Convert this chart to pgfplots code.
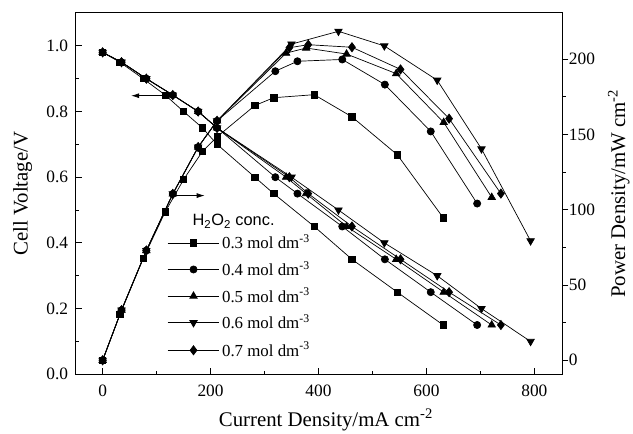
\documentclass[border=0pt]{standalone}
\usepackage{fontspec}
\setmainfont{Liberation Serif}
\newfontfamily\arial{Liberation Sans}
\usepackage{pgfplots}
\usepackage{pgfplotstable}
\pgfplotsset{compat=1.18}
\usetikzlibrary{arrows.meta}

% current density (mA cm-2), cell voltage (V), power density (mW cm-2)
\pgfplotstableread{
I V P
0 0.98 0
32 0.95 30.4
75 0.90 67.5
116 0.85 98.6
150 0.80 120.0
185 0.75 138.8
212 0.70 148.4
282 0.60 169.2
317 0.55 174.4
392 0.45 176.4
462 0.35 161.7
546 0.25 136.5
631 0.15 94.7
}\tabA
\pgfplotstableread{
I V P
0 0.98 0
35 0.95 33.3
81 0.90 72.9
130 0.85 110.5
177 0.80 141.6
212 0.75 159.0
320 0.60 192.0
361 0.55 198.6
444 0.45 199.8
523 0.35 183.1
608 0.25 152.0
694 0.15 104.1
}\tabB
\pgfplotstableread{
I V P
0 0.98 0
35 0.95 33.3
81 0.90 72.9
130 0.85 110.5
177 0.80 141.6
212 0.75 159.0
340 0.60 204.0
377 0.55 207.4
452 0.45 203.4
544 0.35 190.4
632 0.25 158.0
721 0.15 108.2
}\tabC
\pgfplotstableread{
I V P
0 0.98 0
35 0.95 33.3
81 0.90 72.9
130 0.85 110.5
177 0.80 141.6
212 0.75 159.0
350 0.60 210.0
437 0.50 218.5
522 0.40 208.8
620 0.30 186.0
702 0.20 140.4
793 0.10 79.3
}\tabD
\pgfplotstableread{
I V P
0 0.98 0
35 0.95 33.3
81 0.90 72.9
130 0.85 110.5
177 0.80 141.6
212 0.75 159.0
346 0.60 207.6
381 0.55 209.6
462 0.45 207.9
552 0.35 193.2
642 0.25 160.5
738 0.15 110.7
}\tabE

\pgfplotsset{
  base/.style={
    width=489bp, height=363bp, scale only axis,
    xmin=-50, xmax=852,
    axis line style={line width=1.1bp},
    major tick length=6bp, minor tick length=3.5bp,
    every tick/.style={black, line width=0.9bp},
    tick label style={font=\fontsize{17.5}{20}\selectfont},
    label style={font=\fontsize{21}{23}\selectfont},
    /pgf/number format/assume math mode=true,
    clip=false,
  },
  s3/.style={black, line width=0.7bp, mark=square*, mark size=3.2bp},
  s4/.style={black, line width=0.7bp, mark=*, mark size=3.6bp},
  s5/.style={black, line width=0.7bp, mark=triangle*, mark size=4.3bp},
  s6/.style={black, line width=0.7bp, mark=triangle*, mark size=4.3bp, mark options={rotate=180}},
  s7/.style={black, line width=0.7bp, mark=diamond*, mark size=4.6bp},
  % legend sample: short line with the marker in its middle
  leg/.style={mark repeat=2, mark phase=2},
}
\newcommand\legtext[2]{\node[anchor=base west, inner sep=0pt, font=\fontsize{17}{19}\selectfont]
  at (axis cs:221,#1) {#2 mol dm\textsuperscript{-3}};}

\begin{document}
\begin{tikzpicture}
\begin{axis}[
  base,
  ymin=0, ymax=1.1,
  xtick={0,200,400,600,800}, minor x tick num=1,
  ytick={0,0.2,0.4,0.6,0.8,1.0}, minor y tick num=1,
  tick pos=left, tick align=inside,
  yticklabel style={xshift=-4bp, /pgf/number format/fixed, /pgf/number format/fixed zerofill, /pgf/number format/precision=1},
  xticklabel style={yshift=-7bp},
  xlabel={Current Density/mA cm\textsuperscript{-2}},
  xlabel style={at={(axis description cs:0.514,0)}, anchor=base, yshift=-52bp},
  ylabel={Cell Voltage/V},
  ylabel style={at={(axis description cs:-0.109,0.5)}, anchor=center},
]
\addplot[s3] table[x=I, y=V] {\tabA};
\addplot[s4] table[x=I, y=V] {\tabB};
\addplot[s5] table[x=I, y=V] {\tabC};
\addplot[s6] table[x=I, y=V] {\tabD};
\addplot[s7] table[x=I, y=V] {\tabE};
% legend
\addplot[s3, leg] coordinates {(120.6,0.400) (168.4,0.400) (216.2,0.400)};
\addplot[s4, leg] coordinates {(120.6,0.319) (168.4,0.319) (216.2,0.319)};
\addplot[s5, leg] coordinates {(120.6,0.238) (168.4,0.238) (216.2,0.238)};
\addplot[s6, leg] coordinates {(120.6,0.157) (168.4,0.157) (216.2,0.157)};
\addplot[s7, leg] coordinates {(120.6,0.073) (168.4,0.073) (216.2,0.073)};
\legtext{0.382}{0.3}
\legtext{0.301}{0.4}
\legtext{0.220}{0.5}
\legtext{0.139}{0.6}
\legtext{0.055}{0.7}
\node[anchor=base west, inner sep=0pt, font=\arial\fontsize{16.5}{18}\selectfont]
  at (axis description cs:0.2399,0.4113) {H\textsubscript{2}O\textsubscript{2} conc.};
\draw[-{Latex[length=8bp,width=5bp]}, line width=0.7bp] (axis cs:112,0.848) -- (axis cs:53,0.848);
\draw[-{Latex[length=8bp,width=5bp]}, line width=0.7bp] (axis cs:132,0.544) -- (axis cs:189,0.544);
\coordinate (bl) at (rel axis cs:0,0);
\coordinate (tr) at (rel axis cs:1,1);
\end{axis}
\begin{axis}[
  base,
  axis x line=none, axis y line*=right,
  ymin=-9.3, ymax=230.7,
  ytick={0,50,100,150,200}, minor y tick num=1,
  tick align=outside,
  yticklabel style={xshift=-3bp},
  ylabel={Power Density/mW cm\textsuperscript{-2}},
  ylabel style={at={(axis description cs:1.116,0.5)}, anchor=center},
]
\addplot[s3] table[x=I, y=P] {\tabA};
\addplot[s4] table[x=I, y=P] {\tabB};
\addplot[s5] table[x=I, y=P] {\tabC};
\addplot[s6] table[x=I, y=P] {\tabD};
\addplot[s7] table[x=I, y=P] {\tabE};
\end{axis}
\path[use as bounding box] ([shift={(-76bp,-57bp)}]bl) rectangle ([shift={(68bp,13bp)}]tr);
\end{tikzpicture}
\end{document}
